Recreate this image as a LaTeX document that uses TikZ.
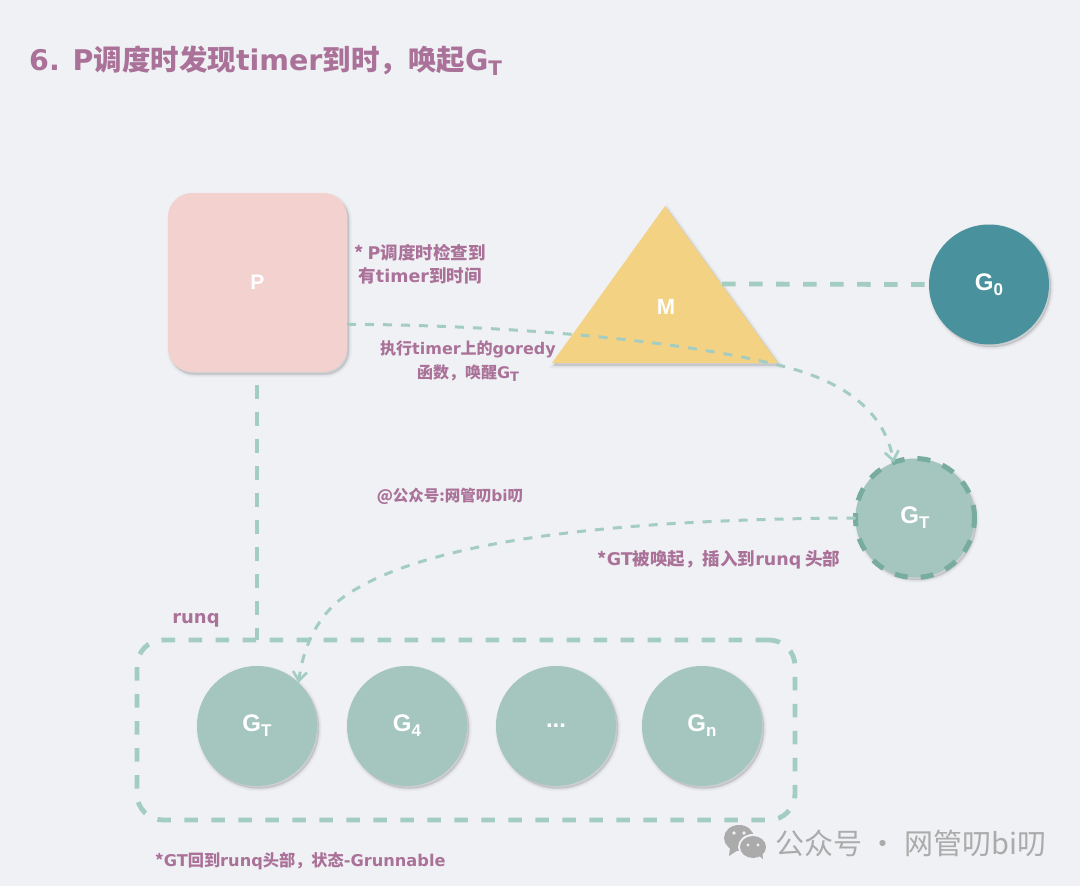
\documentclass[tikz,border=0pt]{standalone}
\usepackage{fontspec}
\setmainfont{Noto Sans CJK SC}
\newfontfamily\latf{DejaVu Sans}
\newfontfamily\gfont{Liberation Sans}
\usetikzlibrary{arrows.meta}
\definecolor{bgc}{HTML}{EFF1F4}
\definecolor{pinkc}{HTML}{AB7299}
\definecolor{pfill}{HTML}{F2D1CE}
\definecolor{mfill}{HTML}{F3D284}
\definecolor{gzero}{HTML}{4A919E}
\definecolor{gfill}{HTML}{A4C6BE}
\definecolor{gdash}{HTML}{78AC9F}
\definecolor{conn}{HTML}{A4CDC2}
\definecolor{wgray}{HTML}{ABABAB}
\newcommand{\la}[1]{{\latf #1}}
\newcommand{\sbs}[1]{\raisebox{-0.4ex}{\fontsize{17}{17}\selectfont #1}}
\newcommand{\lsb}[1]{\raisebox{-0.3ex}{\fontsize{13}{13}\selectfont #1}}
\tikzset{
  softshadow/.style={
    preaction={draw=black,fill=black,solid,line width=6pt,draw opacity=.018,fill opacity=.018,transform canvas={shift={(2pt,-2.5pt)}}},
    preaction={draw=black,fill=black,solid,line width=4pt,draw opacity=.025,fill opacity=.025,transform canvas={shift={(2pt,-2.5pt)}}},
    preaction={draw=black,fill=black,solid,line width=2pt,draw opacity=.03,fill opacity=.03,transform canvas={shift={(2pt,-2.5pt)}}},
    preaction={draw=black,fill=black,solid,line width=0.3pt,draw opacity=.04,fill opacity=.04,transform canvas={shift={(2pt,-2.5pt)}}}},
  gnode/.style={circle,minimum size=120pt,inner sep=0pt,outer sep=0pt,fill=gfill,softshadow,text=white,font=\gfont\bfseries\fontsize{24}{24}\selectfont},
  thick dash/.style={draw=conn,line width=4.8pt,dash pattern=on 13.5pt off 13.5pt},
  thin dash/.style={draw=conn,line width=3pt,dash pattern=on 9pt off 9pt},
  arrowed/.style={-{Straight Barb[length=9pt,width=14pt,line width=2.6pt]}},
  lab/.style={text=pinkc,font=\bfseries\fontsize{17.5}{23}\selectfont,align=center,inner sep=0pt},
}
\begin{document}
\begin{tikzpicture}[x=1pt,y=-1pt]
\useasboundingbox (0,0) rectangle (1080,886);
\fill[bgc] (0,0) rectangle (1080,886);

\node[draw=conn,line width=4.8pt,dash pattern=on 13.5pt off 13.5pt,rounded corners=26pt,minimum width=658pt,minimum height=180pt,inner sep=0pt,outer sep=0pt] (runq) at (466,730) {};

\node[rounded corners=24pt,minimum size=179pt,inner sep=0pt,outer sep=0pt,fill=pfill,softshadow,text=white,font=\gfont\bfseries\fontsize{21}{21}\selectfont] (P) at (257.5,282.5) {P};
\coordinate (pb) at (257,385);
\draw[thick dash] (pb) -- (pb |- runq.north);

\path[fill=mfill,softshadow] (665,206) -- (778,363) -- (552,363) -- cycle;
\node[text=white,font=\gfont\bfseries\fontsize{22}{22}\selectfont,inner sep=0pt] (M) at (666,307) {M};
\coordinate (mr) at (722,284);

\node[gnode,fill=gzero] (G0) at (989,284.5) {G\sbs{0}};
\draw[thick dash] (mr) -- (G0.west);

\node[gnode,draw=gdash,line width=5pt,dash pattern=on 13pt off 13pt,minimum size=119pt] (GTw) at (915,518) {G\sbs{T}};

\node[gnode] (q1) at (257,726) {G\sbs{T}};
\node[gnode] (q2) at (407,726) {G\sbs{4}};
\node[gnode] (q3) at (556,726) {...};
\node[gnode] (q4) at (702,726) {G\sbs{n}};

\draw[thin dash,arrowed] (P.-25.7) .. controls (480,325) and (660,336) .. (778,365) .. controls (850,382) and (885,415) .. (GTw.111);
\draw[thin dash,arrowed] (GTw.west) .. controls (680,519) and (440,530) .. (345,596) .. controls (320,613) and (303,645) .. (q1.46);

\node[anchor=west,text=pinkc,font=\bfseries\fontsize{28.5}{29}\selectfont,inner sep=0pt] (title) at (29,61) {\la{6.}\hspace{0.45em}\la{P}调度时发现\la{timer}到时，唤起\la{G}\raisebox{-0.3ex}{\fontsize{20}{20}\selectfont\la{T}}};
\node[lab] (t1) at (420,264) {* \la{P}调度时检查到\\有\la{timer}到时间};
\node[lab,font=\bfseries\fontsize{16}{24}\selectfont] (t2) at (468,361) {执行\la{timer}上的\la{goredy}\\函数，唤醒\la{G}\lsb{\la{T}}};
\node[lab,font=\bfseries\fontsize{15.5}{20}\selectfont] (t3) at (450,496) {@公众号:网管叨\la{bi}叨};
\node[lab] (t4) at (719,560) {*\la{GT}被唤起，插入到\la{runq} 头部};
\node[lab,font=\bfseries\fontsize{18}{20}\selectfont] (t5) at (196,620) {\la{runq}};
\node[lab,anchor=west,font=\bfseries\fontsize{16.2}{20}\selectfont] (t6) at (155,861) {*\la{GT}回到\la{runq}头部，状态\la{-Grunnable}};

\fill[wgray] (739,838) ellipse (15 and 13);
\fill[wgray] (730,848) -- (729,856) -- (738,850) -- cycle;
\fill[bgc] (753,847) ellipse (15 and 13);
\fill[wgray] (753,847) ellipse (13 and 11);
\fill[wgray] (758,855) -- (763,859) -- (762,850) -- cycle;
\fill[bgc] (734,833) circle (1.8) (744,833) circle (1.8) (748,845) circle (1.6) (758,845) circle (1.6);
\node[anchor=west,text=wgray,font=\fontsize{29}{29}\selectfont,inner sep=0pt] (wm) at (775,843) {公众号 · 网管叨bi叨};
\end{tikzpicture}
\end{document}
